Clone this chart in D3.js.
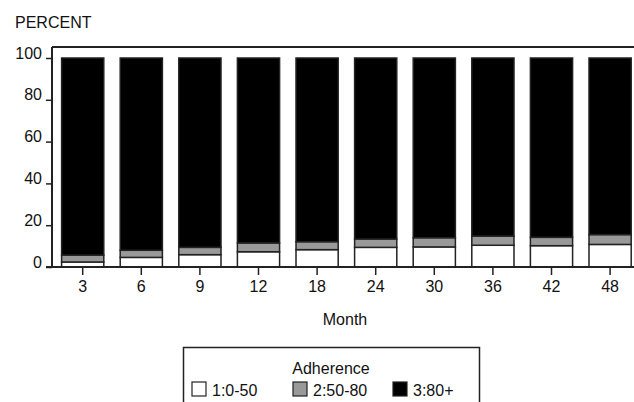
<!DOCTYPE html>
<html>
<head>
<meta charset="utf-8">
<script src="https://cdn.jsdelivr.net/npm/d3@7"></script>
<style>
    body { margin: 0; background: #fff; }
    svg text { font-family: Arial, "Liberation Sans", sans-serif; fill: #111; }
</style>
</head>
<body>
<div id="viz"></div>
<script>
"use strict";
(function(){
    // data (percent of patients per adherence group)
    const months = ["3", "6", "9", "12", "18", "24", "30", "36", "42", "48"]
    const low = [2.4, 4.6, 5.9, 7.3, 8.3, 9.4, 9.6, 10.4, 10.2, 10.8]
    const mid = [3.3, 3.4, 3.5, 4.2, 3.8, 4.0, 4.4, 4.4, 4.0, 4.7]
    const high = months.map((m, i) => +(100 - low[i] - mid[i]).toFixed(1))
    const yTicks = [0, 20, 40, 60, 80, 100]
    const groups = ["1:0-50", "2:50-80", "3:80+"]

    const measurements = { width: 634, height: 402 }
    const fills = { "1:0-50": "#ffffff", "2:50-80": "#999999", "3:80+": "#000000" }
    const fontSize = 16

    const svgContainer = d3.select('#viz').append("svg")
        .attr('width', measurements.width)
        .attr('height', measurements.height)

    let scaleX = d3.scaleBand()
        .domain(months)
        .range([53.4, 639.4])
        .paddingInner(0.28)
        .paddingOuter(0.14)

    let scaleY = d3.scaleLinear()
        .domain([0, 100])
        .range([267, 58])

    // build stacked rows
    const rows = months.map((m, i) => ({ month: m, "1:0-50": low[i], "2:50-80": mid[i], "3:80+": high[i] }))
    const stacked = d3.stack().keys(groups)(rows)

    svgContainer.append("g")
        .selectAll("g")
        .data(stacked)
        .enter()
        .append("g")
            .attr("fill", d => fills[d.key])
        .selectAll("rect")
        .data(d => d)
        .enter()
        .append("rect")
            .attr("x", d => scaleX(d.data.month))
            .attr("y", d => scaleY(d[1]))
            .attr("width", scaleX.bandwidth())
            .attr("height", d => scaleY(d[0]) - scaleY(d[1]))
            .attr("stroke", "#222")
            .attr("stroke-width", 1.5)

    // frame: top line and left axis
    svgContainer.append("line")
        .attr("x1", 52).attr("x2", 634)
        .attr("y1", 47).attr("y2", 47)
        .attr("stroke", "#222").attr("stroke-width", 2)

    const yAxis = svgContainer.append("g")
        .attr("transform", "translate(52,0)")
        .call(d3.axisLeft(scaleY).tickValues(yTicks).tickSize(6).tickSizeOuter(0))
    yAxis.select(".domain").attr("d", "M0,47V267").attr("stroke", "#222").attr("stroke-width", 2)
    yAxis.selectAll(".tick line").attr("stroke", "#222").attr("stroke-width", 1.5)
    yAxis.selectAll(".tick text")
        .attr("font-size", fontSize)
        .attr("x", -10)
        .attr("dy", "0")
        .attr("fill", "#111")

    const xAxis = svgContainer.append("g")
        .attr("transform", "translate(0,267)")
        .call(d3.axisBottom(scaleX).tickSize(8).tickSizeOuter(0))
    xAxis.select(".domain").attr("d", "M46,0H634").attr("stroke", "#222").attr("stroke-width", 2)
    xAxis.selectAll(".tick line").attr("stroke", "#222").attr("stroke-width", 1.5)
    xAxis.selectAll(".tick text")
        .attr("font-size", fontSize)
        .attr("y", 14)
        .attr("fill", "#111")

    /* labels */
    svgContainer.append("text")
        .attr("x", 15).attr("y", 28)
        .attr("font-size", fontSize)
        .text("PERCENT")

    svgContainer.append("text")
        .attr("x", 345).attr("y", 325)
        .attr("text-anchor", "middle")
        .attr("font-size", fontSize)
        .text("Month")

    /* legend */
    const legend = svgContainer.append("g")
    legend.append("rect")
        .attr("x", 183.5).attr("y", 347.5)
        .attr("width", 296).attr("height", 70)
        .attr("fill", "none").attr("stroke", "#222").attr("stroke-width", 1.5)
    legend.append("text")
        .attr("x", 331).attr("y", 374)
        .attr("text-anchor", "middle")
        .attr("font-size", fontSize)
        .text("Adherence")

    const legendX = [192, 293, 393]
    const items = legend.selectAll(".item")
        .data(groups)
        .enter()
        .append("g")
            .attr("transform", (d, i) => "translate(" + legendX[i] + ",382)")
    items.append("rect")
        .attr("width", 14).attr("height", 14)
        .attr("fill", d => fills[d])
        .attr("stroke", "#222").attr("stroke-width", 1.2)
    items.append("text")
        .attr("x", 20).attr("y", 13.5)
        .attr("font-size", fontSize)
        .text(d => d)
})()
</script>
</body>
</html>
